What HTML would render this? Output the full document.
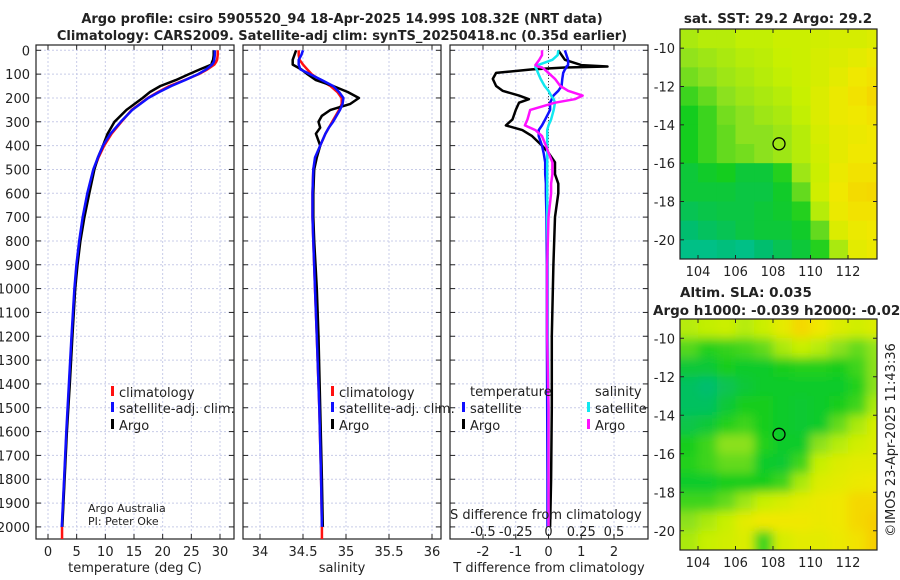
<!DOCTYPE html>
<html><head><meta charset="utf-8"><style>
html,body{margin:0;padding:0;background:#fff;}
svg{display:block;font-family:"DejaVu Sans","Liberation Sans",sans-serif;}
</style></head><body>
<svg id="c" width="900" height="580" viewBox="0 0 900 580"></svg>
<script>
const depthTicks=[0,100,200,300,400,500,600,700,800,900,1000,1100,1200,1300,1400,1500,1600,1700,1800,1900,2000];
const tempTicks=[0,5,10,15,20,25,30];
const salTicks=[34,34.5,35,35.5,36];
const salTickLabels=["34","34.5","35","35.5","36"];
const diffTicks=[-2,-1,0,1,2];
const sdiffTicks=[-0.5,-0.25,0,0.25,0.5];
const sdiffLabels=["-0.5","-0.25","0","0.25","0.5"];
// temperature profiles
const tDepth=[0,20,40,50,60,80,100,125,150,175,200,250,300,350,400,450,500,600,700,800,900,1000,1200,1400,1600,1800,2000];
const tClim=[29.6,29.6,29.5,29.3,29,27.8,26.3,23.8,21.2,19.2,17.4,14.6,12.8,11.1,9.8,8.8,8.0,6.9,6.1,5.5,5.0,4.65,4.15,3.7,3.25,2.85,2.45];
const tSat=[29.1,29.1,29.0,28.9,28.6,27.6,26.2,23.9,21.5,19.4,17.5,14.7,12.7,10.9,9.6,8.7,7.9,6.85,6.05,5.45,4.95,4.6,4.1,3.65,3.2,2.8,2.4];
const tArgo=[28.9,28.9,28.8,28.6,28.5,26.5,24.6,22.3,19.6,17.8,16.5,13.7,11.6,10.4,9.6,8.7,8.1,7.2,6.35,5.65,5.15,4.75,4.25,3.8,3.3,2.9,2.5];
// salinity profiles
const sDepth=[0,20,40,60,80,100,125,150,175,200,225,250,275,300,325,350,400,450,500,600,700,800,1000,1200,1500,1800,2000];
const sClim=[34.45,34.45,34.46,34.5,34.55,34.6,34.7,34.82,34.9,34.95,34.95,34.92,34.88,34.84,34.8,34.76,34.7,34.65,34.62,34.61,34.61,34.62,34.64,34.66,34.69,34.71,34.72];
const sSat=[34.5,34.48,34.45,34.45,34.47,34.58,34.72,34.85,34.92,34.97,34.96,34.93,34.89,34.85,34.8,34.76,34.7,34.64,34.62,34.61,34.61,34.62,34.64,34.66,34.69,34.71,34.72];
const sArgo=[34.42,34.4,34.38,34.38,34.48,34.55,34.65,34.85,35.02,35.15,35.05,34.82,34.72,34.68,34.7,34.65,34.7,34.66,34.63,34.62,34.62,34.63,34.66,34.68,34.7,34.72,34.73];
// difference profiles
const dDepth=[0,20,40,62,68,72,80,95,120,150,170,190,205,220,250,290,315,335,360,400,430,470,520,560,600,700,900,1200,1500,1800,2000];
const dTArgo=[0.3,0.4,0.5,1.0,1.8,0.5,-0.5,-1.6,-1.7,-1.6,-1.4,-0.9,-0.6,-0.9,-1.0,-1.1,-1.3,-0.8,-0.5,-0.2,0.0,0.2,0.2,0.3,0.3,0.2,0.15,0.1,0.1,0.08,0.05];
const dTSat=[0.5,0.55,0.6,0.6,0.55,0.55,0.5,0.45,0.42,0.4,0.3,0.15,0.1,0.05,0.05,-0.1,-0.2,-0.3,-0.3,-0.2,-0.15,-0.1,-0.1,-0.08,-0.08,-0.06,-0.05,-0.05,-0.04,-0.03,-0.03];
const dSSat=[0.075,0.07,0.03,-0.08,-0.1,-0.1,-0.09,-0.08,-0.06,-0.03,0,0.02,0.04,0.05,0.04,0.02,0,-0.01,-0.01,-0.01,-0.01,-0.01,-0.01,-0.01,-0.01,-0.01,-0.005,-0.005,0,0,0];
const dSArgo=[-0.05,-0.05,-0.07,-0.1,-0.08,-0.05,-0.03,0.0,0.05,0.09,0.15,0.26,0.2,0.05,-0.14,-0.16,-0.18,-0.1,-0.05,-0.02,0.0,0.03,0.03,0.02,0.02,0.0,-0.01,-0.01,0.0,0.0,0.0];
// maps (colour index 0..1), rows lat -9 → -21, cols lon 103 → 114
const sstGrid=[
[.6,.62,.62,.64,.64,.66,.66,.68,.7,.7,.72],
[.56,.58,.6,.62,.63,.65,.66,.7,.72,.75,.78],
[.52,.55,.58,.6,.62,.64,.66,.7,.75,.8,.82],
[.45,.5,.55,.58,.6,.62,.65,.72,.78,.82,.85],
[.4,.45,.52,.55,.58,.6,.64,.72,.78,.8,.82],
[.4,.45,.5,.55,.55,.58,.62,.7,.76,.78,.8],
[.4,.45,.5,.52,.55,.58,.62,.68,.76,.8,.8],
[.35,.38,.4,.35,.35,.42,.58,.66,.78,.82,.82],
[.35,.35,.35,.33,.33,.38,.5,.68,.8,.84,.85],
[.3,.32,.33,.33,.35,.37,.42,.62,.78,.82,.82],
[.25,.28,.3,.33,.35,.35,.38,.5,.72,.78,.8],
[.2,.2,.22,.2,.25,.3,.35,.42,.6,.75,.78]];
const slaGrid=[
[.62,.64,.66,.62,.66,.76,.85,.8,.72,.68,.72],
[.48,.42,.44,.46,.5,.6,.65,.62,.55,.5,.56],
[.35,.35,.4,.38,.38,.4,.42,.42,.4,.45,.55],
[.28,.25,.3,.35,.38,.38,.38,.38,.38,.42,.55],
[.28,.28,.35,.4,.4,.38,.36,.38,.4,.45,.6],
[.32,.35,.42,.45,.4,.38,.36,.38,.5,.6,.7],
[.4,.45,.55,.55,.42,.38,.38,.55,.62,.68,.72],
[.42,.45,.5,.5,.38,.36,.45,.65,.72,.75,.75],
[.38,.38,.4,.4,.4,.45,.6,.72,.75,.78,.8],
[.45,.45,.5,.58,.65,.7,.75,.78,.8,.85,.85],
[.55,.6,.65,.75,.8,.8,.8,.78,.8,.85,.88],
[.6,.65,.68,.72,.45,.7,.75,.75,.78,.82,.88]];
const lonTicks=[104,106,108,110,112];
const latTicks=[-10,-12,-14,-16,-18,-20];
const argoLon=108.32, argoLat=-14.99;

const svg=document.getElementById('c');
const NS='http://www.w3.org/2000/svg';
function mk(tag,attrs,parent){const e=document.createElementNS(NS,tag);for(const k in attrs)e.setAttribute(k,attrs[k]);(parent||svg).appendChild(e);return e;}
function txt(s,x,y,size,anchor,parent,weight){const t=mk('text',{x:x,y:y,'font-size':size,'text-anchor':anchor||'start',fill:'#222','font-weight':weight||'normal'},parent);t.textContent=s;return t;}

const defs=mk('defs',{});
const f=mk('filter',{id:'blur',x:'-5%',y:'-5%',width:'110%',height:'110%'},defs);
mk('feGaussianBlur',{stdDeviation:'5'},f);

const TOP=45,BOT=539;
const yD=d=>50.3+d*0.2383;
const P1={l:36,r:234,x:v=>48+v*5.733};
const P2={l:243,r:441,x:v=>260+(v-34)*86};
const P3={l:450,r:648,x:v=>548.5+v*32.75};
const sx3=s=>P3.x(s*4);

function panel(P,name,xt,xfun,labels){
  const g=mk('g',{},svg);
  
  
  xt.forEach(v=>{const x=xfun(v);mk('line',{x1:x,x2:x,y1:TOP,y2:BOT,stroke:'#c8cce8','stroke-width':1,'stroke-dasharray':'2,2'},g);
    mk('line',{x1:x,x2:x,y1:BOT,y2:BOT-5,stroke:'#222'},g);mk('line',{x1:x,x2:x,y1:TOP,y2:TOP+5,stroke:'#222'},g);});
  depthTicks.forEach(d=>{const y=yD(d);mk('line',{x1:P.l,x2:P.r,y1:y,y2:y,stroke:'#c8cce8','stroke-width':1,'stroke-dasharray':'2,2'},g);
    mk('line',{x1:P.l,x2:P.l+5,y1:y,y2:y,stroke:'#222'},g);mk('line',{x1:P.r,x2:P.r-5,y1:y,y2:y,stroke:'#222'},g);});
  mk('rect',{x:P.l,y:TOP,width:P.r-P.l,height:BOT-TOP,fill:'none',stroke:'#222','stroke-width':1.2},g);
  if(labels){xt.forEach((v,i)=>txt(labels[i],xfun(v),556,13,'middle',g));}
  return g;
}
const g1=panel(P1,'temperature-panel',tempTicks,P1.x,tempTicks.map(String));
const g2=panel(P2,'salinity-panel',salTicks,P2.x,salTickLabels);
const g3=panel(P3,'difference-panel',diffTicks,P3.x,diffTicks.map(String));
depthTicks.forEach(d=>{txt(String(d),30,yD(d)+5,13,'end');});
txt('temperature (deg C)',135,572,13,'middle');
txt('salinity',342,572,13,'middle');
txt('T difference from climatology',549,572,13,'middle');

function line(g,xs,ds,xf,color,name,w){
  const pts=xs.map((v,i)=>xf(v).toFixed(1)+','+yD(ds[i]).toFixed(1)).join(' ');
  const p=mk('polyline',{points:pts,fill:'none',stroke:color,'stroke-width':w||2.5,'stroke-linejoin':'round'},g);
  
  
}
line(g1,tClim,tDepth,P1.x,'#ff1010','temp-climatology-line');
line(g1,tArgo,tDepth,P1.x,'#000','temp-argo-line');
line(g1,tSat,tDepth,P1.x,'#1010ff','temp-satellite-line');
line(g2,sClim,sDepth,P2.x,'#ff1010','sal-climatology-line');
line(g2,sArgo,sDepth,P2.x,'#000','sal-argo-line');
line(g2,sSat,sDepth,P2.x,'#1010ff','sal-satellite-line');
mk('line',{x1:P3.x(0),x2:P3.x(0),y1:TOP,y2:yD(420),stroke:'#444','stroke-width':1,'stroke-dasharray':'1,2'},g3);
line(g3,dTArgo,dDepth,P3.x,'#000','tdiff-argo-line');
line(g3,dTSat,dDepth,P3.x,'#1010ff','tdiff-satellite-line');
line(g3,dSSat,dDepth,sx3,'#10e8f0','sdiff-satellite-line');
line(g3,dSArgo,dDepth,sx3,'#ff10ff','sdiff-argo-line');
mk('line',{x1:P1.x(2.45),x2:P1.x(2.45),y1:yD(2000),y2:BOT,stroke:'#ff1010','stroke-width':2.5},g1);
mk('line',{x1:P2.x(34.72),x2:P2.x(34.72),y1:yD(2000),y2:BOT,stroke:'#ff1010','stroke-width':2.5},g2);

function leg(g,x,y,color,label,name){
  const e=mk('g',{},g);
  mk('rect',{x:x,y:y-10,width:3,height:10,fill:color},e);txt(label,x+8,y+1,13,'start',e);
}
leg(g1,111,396,'#ff1010','climatology','legend-climatology');
leg(g1,111,412,'#1010ff','satellite-adj. clim.','legend-satellite');
leg(g1,111,429,'#000','Argo','legend-argo');
leg(g2,331,396,'#ff1010','climatology','legend-climatology-sal');
leg(g2,331,412,'#1010ff','satellite-adj. clim.','legend-satellite-sal');
leg(g2,331,429,'#000','Argo','legend-argo-sal');
txt('temperature',470,396,13,'start',g3);txt('salinity',595,396,13,'start',g3);
leg(g3,462,412,'#1010ff','satellite','legend-tdiff-sat');
leg(g3,462,429,'#000','Argo','legend-tdiff-argo');
leg(g3,587,412,'#10e8f0','satellite','legend-sdiff-sat');
leg(g3,587,429,'#ff10ff','Argo','legend-sdiff-argo');
txt('Argo Australia',88,512,11);txt('PI: Peter Oke',88,525,11);
txt('S difference from climatology',450,519,13,'start',g3);
sdiffTicks.forEach((v,i)=>txt(sdiffLabels[i],sx3(v),536,13,'middle',g3));

txt('Argo profile: csiro 5905520_94 18-Apr-2025 14.99S 108.32E (NRT data)',342,23,13,'middle',svg,'bold');
txt('Climatology: CARS2009. Satellite-adj clim: synTS_20250418.nc (0.35d earlier)',342,40,13,'middle',svg,'bold');

// colormap
const cstops=[[0,[0,200,230]],[0.25,[0,190,110]],[0.4,[20,205,30]],[0.55,[140,225,30]],[0.65,[200,240,0]],[0.8,[240,232,0]],[0.9,[248,200,0]],[1,[248,160,0]]];
function cmap(v){for(let i=1;i<cstops.length;i++){if(v<=cstops[i][0]){const a=cstops[i-1],b=cstops[i];const t=(v-a[0])/(b[0]-a[0]);return 'rgb('+a[1].map((c,k)=>Math.round(c+(b[1][k]-c)*t)).join(',')+')';}}return 'rgb(248,160,0)';}
function map(name,top,bot,grid,smooth){
  const L=680,R=877,lx=v=>698+(v-104)*18.75,ly=v=>top+((-9)-v)*((bot-top)/12);
  const g=mk('g',{},svg);
  const cp=mk('clipPath',{id:'cp'+name},g);mk('rect',{x:L,y:top,width:R-L,height:bot-top},cp);
  const outer=mk('g',{'clip-path':'url(#cp'+name+')'},g);
  const cg=mk('g',smooth?{filter:'url(#blur)'}:{},outer);
  grid.forEach((row,r)=>row.forEach((v,c)=>{
    const x0=lx(103+c)-(smooth&&c===0?10:0),y0=ly(-9-r)-(smooth&&r===0?10:0);
    const x1=lx(104+c)+(smooth&&c===row.length-1?10:0),y1=ly(-10-r)+(smooth&&r===grid.length-1?10:0);
    const cell=mk('rect',{x:x0,y:y0,width:x1-x0+0.5,height:y1-y0+0.5,fill:cmap(v)},cg);
    
    }));
  mk('rect',{x:L,y:top,width:R-L,height:bot-top,fill:'none',stroke:'#222','stroke-width':1.2},g);
  lonTicks.forEach(v=>{mk('line',{x1:lx(v),x2:lx(v),y1:bot,y2:bot-4,stroke:'#222'},g);mk('line',{x1:lx(v),x2:lx(v),y1:top,y2:top+4,stroke:'#222'},g);txt(String(v),lx(v),bot+17,13,'middle',g);});
  latTicks.forEach(v=>{mk('line',{x1:L,x2:L+4,y1:ly(v),y2:ly(v),stroke:'#222'},g);mk('line',{x1:R,x2:R-4,y1:ly(v),y2:ly(v),stroke:'#222'},g);txt(String(v),L-5,ly(v)+5,13,'end',g);});
  const c=mk('circle',{cx:lx(argoLon),cy:ly(argoLat),r:6,fill:'none',stroke:'#000','stroke-width':1.3},g);
  
}
map('sst-map',29,259,sstGrid,false);
map('sla-map',319,550,slaGrid,true);
txt('sat. SST: 29.2 Argo: 29.2',778,23,13.5,'middle',svg,'bold');
txt('Altim. SLA: 0.035',680,297,13.5,'start',svg,'bold');
txt('Argo h1000: -0.039 h2000: -0.028',653,315,13.5,'start',svg,'bold');
const r=txt('©IMOS 23-Apr-2025 11:43:36',0,0,13,'middle');r.setAttribute('transform','translate(895,440) rotate(-90)');
</script>
</body></html>
